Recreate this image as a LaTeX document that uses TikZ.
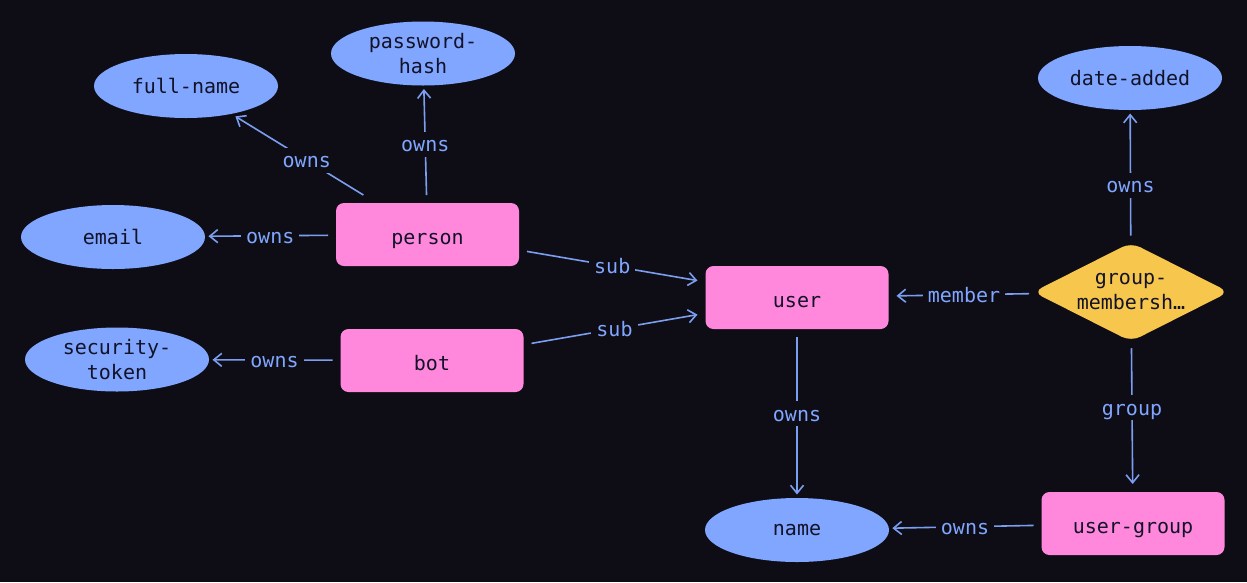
\documentclass[tikz,border=0pt]{standalone}
\usepackage{fontspec}
\setmonofont{DejaVu Sans Mono}
\usepackage{xcolor}
\definecolor{ColBg}{RGB}{14,13,22}
\definecolor{ColEnt}{RGB}{255,136,221}
\definecolor{ColAttr}{RGB}{128,166,255}
\definecolor{ColRel}{RGB}{247,198,76}
\definecolor{ColEdge}{RGB}{124,158,240}
\definecolor{ColText}{RGB}{18,18,40}
\usetikzlibrary{shapes.geometric}
\usetikzlibrary{arrows.meta}
\tikzstyle{Entity}=[rectangle,rounded corners=8pt,fill=ColEnt,minimum width=183pt,
minimum height=63pt,outer sep=8pt,text=ColText,text height=19pt,text depth=0pt,
font=\ttfamily\fontsize{20}{25}\selectfont]
\tikzstyle{Attr}=[ellipse,fill=ColAttr,minimum width=184pt,minimum height=64pt,
inner sep=0pt,outer sep=3.5pt,text=ColText,align=center,
font=\ttfamily\fontsize{20}{25}\selectfont]
\tikzstyle{Rel}=[diamond,aspect=2,rounded corners=10pt,fill=ColRel,minimum width=200pt,
minimum height=103pt,inner sep=0pt,outer sep=5pt,text=ColText,align=center,
font=\ttfamily\fontsize{20}{25}\selectfont]
\tikzstyle{Edge}=[draw=ColEdge,line width=1.6pt,-{Straight Barb[length=8pt,width=13pt]}]
\tikzstyle{Lbl}=[fill=ColBg,inner sep=5pt,text=ColAttr,text height=15pt,text depth=0pt,
font=\ttfamily\fontsize{20}{25}\selectfont]

\begin{document}
\begin{tikzpicture}[x=1pt,y=-1pt]
        \fill[ColBg](0,0)rectangle(1247,582);
        \useasboundingbox(0,0)rectangle(1247,582);
        % entities
        \node[Entity](person)at(427.5,234.5){person};
        \node[Entity](bot)at(432,360.5){bot};
        \node[Entity](user)at(797,297.5){user};
        \node[Entity](usergroup)at(1133,523.5){user-group};
        % relation
        \node[Rel](membership)at(1131,292){group-\\membersh…};
        % attributes
        \node[Attr](fullname)at(186,86){full-name};
        \node[Attr](pwhash)at(423,53.5){password-\\hash};
        \node[Attr](email)at(113,237){email};
        \node[Attr](sectoken)at(117,359.5){security-\\token};
        \node[Attr](dateadded)at(1130,78){date-added};
        \node[Attr](name)at(797,530){name};
        % edges
        \draw[Edge](person)--(fullname);
        \draw[Edge](person)--(pwhash);
        \draw[Edge](person)--(email);
        \draw[Edge](person)--(user);
        \draw[Edge](bot)--(user);
        \draw[Edge](bot)--(sectoken);
        \draw[Edge](user)--(name);
        \draw[Edge](membership)--(user);
        \draw[Edge](membership)--(dateadded);
        \draw[Edge](membership)--(usergroup);
        \draw[Edge](usergroup)--(name);
        % labels
        \path(person.center)--(fullname.center)node[midway,Lbl]{owns};
        \path(person.center)--(pwhash.center)node[midway,Lbl]{owns};
        \path(person.center)--(email.center)node[midway,Lbl]{owns};
        \path(person.center)--(user.center)node[midway,Lbl]{sub};
        \path(bot.center)--(user.center)node[midway,Lbl]{sub};
        \path(bot.center)--(sectoken.center)node[midway,Lbl]{owns};
        \path(user.center)--(name.center)node[midway,Lbl]{owns};
        \path(membership.center)--(user.center)node[midway,Lbl]{member};
        \path(membership.center)--(dateadded.center)node[midway,Lbl]{owns};
        \path(membership.center)--(usergroup.center)node[midway,Lbl]{group};
        \path(usergroup.center)--(name.center)node[midway,Lbl]{owns};
    \end{tikzpicture}
\end{document}
